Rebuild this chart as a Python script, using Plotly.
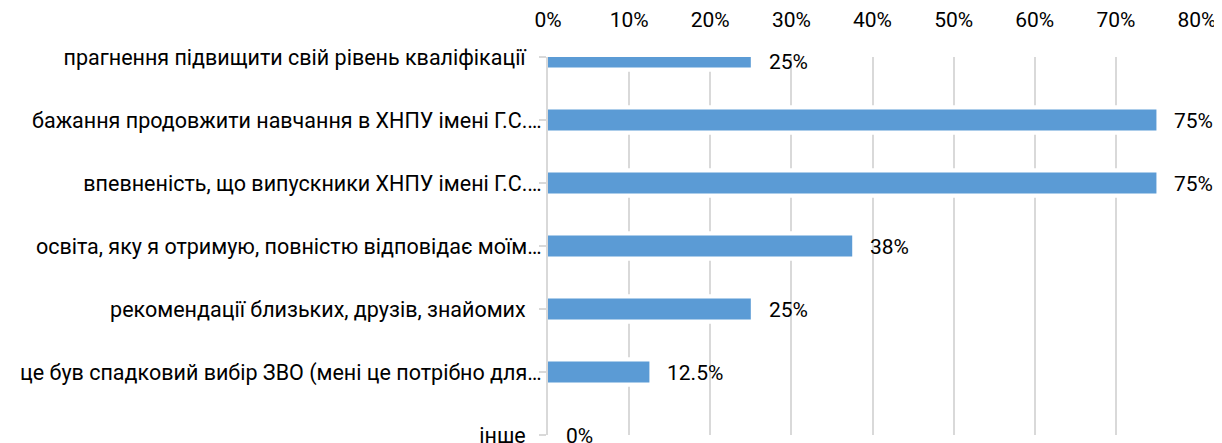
import plotly.graph_objects as go

categories = [
    "прагнення підвищити свій рівень кваліфікації",
    "бажання продовжити навчання в ХНПУ імені Г.С.…",
    "впевненість, що випускники ХНПУ імені Г.С.…",
    "освіта, яку я отримую, повністю відповідає моїм…",
    "рекомендації близьких, друзів, знайомих",
    "це був спадковий вибір ЗВО (мені це потрібно для…",
    "інше",
]
values = [25, 75, 75, 37.5, 25, 12.5, 0]
value_labels = ["25%", "75%", "75%", "38%", "25%", "12.5%", "0%"]
x_ticks = [0, 10, 20, 30, 40, 50, 60, 70, 80]

FONT = "Roboto"
BAR_COLOR = "#5b9bd5"
GRID = "#d9d9d9"

# Excel-style: truncated labels run up to the tick, full labels sit a bit further left
PAD = "\u00a0\u00a0\u00a0"
tick_text = [c if c.endswith("…") else c + PAD for c in categories]

fig = go.Figure()
# white halo behind bars (breaks gridlines around bars, as in the original)
fig.add_trace(go.Bar(
    x=values, y=categories, orientation="h",
    marker=dict(color="white", line=dict(width=0)),
    width=0.47, hoverinfo="skip", showlegend=False,
))
fig.add_trace(go.Bar(
    x=values, y=categories, orientation="h",
    marker=dict(color=BAR_COLOR, line=dict(width=0)),
    width=0.335, showlegend=False,
))

annotations = []
for i, (v, lab) in enumerate(zip(values, value_labels)):
    annotations.append(dict(
        x=v, y=categories[i], xref="x", yref="y",
        text=lab, showarrow=False, xanchor="left", yanchor="middle",
        xshift=16, yshift=(-5 if i == 0 else -1),
        font=dict(family=FONT, size=21, color="#000000"),
    ))

fig.update_layout(
    width=1222, height=443,
    margin=dict(l=540, r=33, t=49, b=16, autoexpand=False),
    paper_bgcolor="white", plot_bgcolor="white",
    barmode="overlay",
    font=dict(family=FONT, size=20, color="#000000"),
    annotations=annotations,
    xaxis=dict(
        side="top", range=[0, 80], tickvals=x_ticks,
        ticktext=[f"{t}%" for t in x_ticks],
        showgrid=True, gridcolor=GRID, gridwidth=2,
        zeroline=False, showline=False, automargin=False,
        ticks="outside", ticklen=21, tickcolor="rgba(0,0,0,0)",
        tickfont=dict(family=FONT, size=21, color="#000000"),
    ),
    yaxis=dict(
        type="category", categoryorder="array", categoryarray=categories,
        tickvals=categories, ticktext=tick_text,
        range=[6, 0], showgrid=False, zeroline=False, automargin=False,
        showline=True, linecolor=GRID, linewidth=2,
        ticks="outside", ticklen=7, tickcolor=GRID, tickwidth=2,
        ticklabelstandoff=-7,
        tickfont=dict(family=FONT, size=21.5, color="#000000"),
    ),
)

fig.write_html("out.html")
